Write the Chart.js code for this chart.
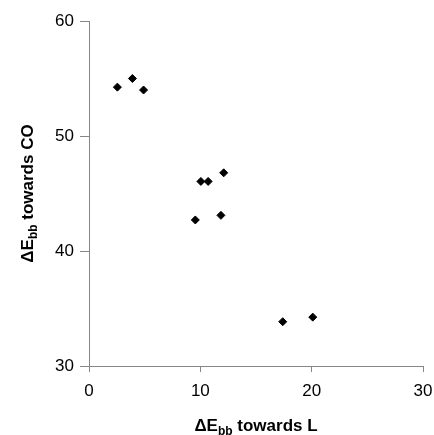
<!DOCTYPE html>
<html>
<head>
<meta charset="utf-8">
<script src="https://cdn.jsdelivr.net/npm/chart.js@4/dist/chart.umd.min.js"></script>
<style>
    html, body { margin: 0; padding: 0; background: #ffffff; }
    #chart { display: block; }
</style>
</head>
<body>
<canvas id="chart" width="434" height="435"></canvas>
<script>
// ΔEbb towards L (x) and towards CO (y)
const towardsL = [2.55, 3.9, 4.9, 10.05, 10.7, 12.1, 9.55, 11.85, 17.4, 20.1];
const towardsCO = [54.25, 55.0, 54.0, 46.05, 46.05, 46.8, 42.7, 43.1, 33.85, 34.25];

const xTicks = [0, 10, 20, 30];
const yTicks = [30, 40, 50, 60];

const xTitle = ["ΔE", "bb", " towards L"];
const yTitle = ["ΔE", "bb", " towards CO"];

const FONT = "'Liberation Sans', Arial, sans-serif";

// draws "ΔE" + subscript "bb" + rest, centred on cx
function drawSubTitle(ctx, parts, cx, baseline) {
    const big = "bold 17px " + FONT;
    const small = "bold 12px " + FONT;
    ctx.font = big;
    const w0 = ctx.measureText(parts[0]).width;
    const w2 = ctx.measureText(parts[2]).width;
    ctx.font = small;
    const w1 = ctx.measureText(parts[1]).width;
    let x = cx - (w0 + w1 + w2) / 2;
    ctx.fillStyle = "#000000";
    ctx.textAlign = "left";
    ctx.textBaseline = "alphabetic";
    ctx.font = big;
    ctx.fillText(parts[0], x, baseline);
    x += w0;
    ctx.font = small;
    ctx.fillText(parts[1], x, baseline + 4);
    x += w1;
    ctx.font = big;
    ctx.fillText(parts[2], x, baseline);
}

const axisTitles = {
    id: "axisTitles",
    afterDraw(chart) {
        const ctx = chart.ctx;
        const area = chart.chartArea;
        ctx.save();
        drawSubTitle(ctx, xTitle, (area.left + area.right) / 2, 431);
        ctx.translate(33, (area.top + area.bottom) / 2);
        ctx.rotate(-Math.PI / 2);
        drawSubTitle(ctx, yTitle, 0, 0);
        ctx.restore();
    }
};

const points = towardsL.map((x, i) => ({ x: x, y: towardsCO[i] }));

new Chart(document.getElementById("chart").getContext("2d"), {
    type: "scatter",
    data: {
        datasets: [{
            data: points,
            pointStyle: "rectRot",
            pointRadius: 4,
            pointHoverRadius: 4,
            backgroundColor: "#000000",
            borderColor: "#000000",
            borderWidth: 1
        }]
    },
    options: {
        responsive: false,
        animation: false,
        events: [],
        layout: { padding: { top: 21, right: 0, bottom: 0, left: 0 } },
        plugins: {
            legend: { display: false },
            tooltip: { enabled: false }
        },
        scales: {
            x: {
                type: "linear",
                min: xTicks[0],
                max: xTicks[xTicks.length - 1],
                afterBuildTicks: axis => { axis.ticks = xTicks.map(v => ({ value: v })); },
                afterFit: axis => {
                    axis.height = 69;
                    axis.paddingLeft = 0;
                    axis.paddingRight = 11;
                },
                border: { display: true, color: "#868686", width: 1 },
                grid: { drawOnChartArea: false, drawTicks: true, tickLength: 6, color: "#868686" },
                ticks: { color: "#000000", padding: 9, font: { family: FONT, size: 17 } }
            },
            y: {
                type: "linear",
                min: yTicks[0],
                max: yTicks[yTicks.length - 1],
                afterBuildTicks: axis => { axis.ticks = yTicks.map(v => ({ value: v })); },
                afterFit: axis => { axis.width = 89; },
                border: { display: true, color: "#868686", width: 1 },
                grid: { drawOnChartArea: false, drawTicks: true, tickLength: 9, color: "#868686" },
                ticks: { color: "#000000", padding: 6, font: { family: FONT, size: 17 } }
            }
        }
    },
    plugins: [axisTitles]
});
</script>
</body>
</html>
